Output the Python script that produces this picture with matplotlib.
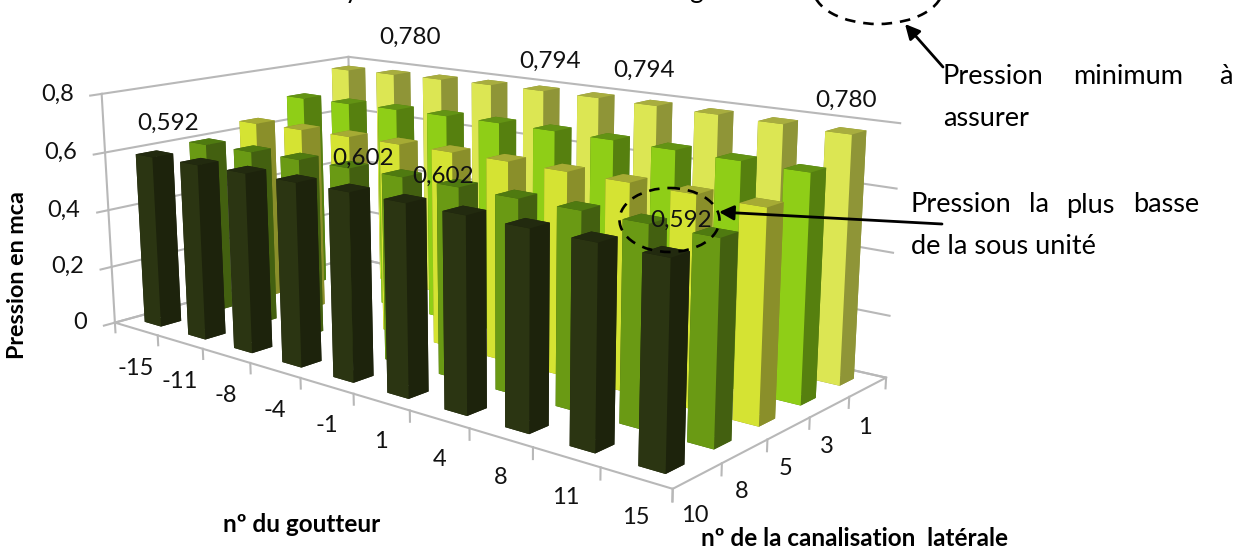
import numpy as np
import matplotlib
matplotlib.use('Agg')
import matplotlib.pyplot as plt
from matplotlib.patches import Ellipse
from matplotlib.transforms import offset_copy

plt.rcParams['font.family'] = ['Lato', 'DejaVu Sans']

goutteurs = ['-15', '-11', '-8', '-4', '-1', '1', '4', '8', '11', '15']
canalisations = ['10', '8', '5', '3', '1']
pression_10 = [0.592, 0.595, 0.598, 0.600, 0.602, 0.602, 0.600, 0.598, 0.595, 0.592]
pression_8 = [0.600, 0.603, 0.606, 0.608, 0.610, 0.610, 0.608, 0.606, 0.603, 0.600]
pression_5 = [0.642, 0.646, 0.649, 0.651, 0.653, 0.653, 0.651, 0.649, 0.646, 0.642]
pression_3 = [0.703, 0.707, 0.711, 0.714, 0.716, 0.716, 0.714, 0.711, 0.707, 0.703]
pression_1 = [0.780, 0.785, 0.789, 0.792, 0.794, 0.794, 0.792, 0.789, 0.785, 0.780]
series = [pression_10, pression_8, pression_5, pression_3, pression_1]
z_ticks = [0, 0.2, 0.4, 0.6, 0.8]
z_labels = ['0', '0,2', '0,4', '0,6', '0,8']

# front, side, top shades for each canalisation
face_cols = ['#2b3512', '#6a9a14', '#d5e333', '#8fce17', '#dce653']
side_cols = ['#1d230c', '#436010', '#8a8f2a', '#56800f', '#8f9537']
top_cols = ['#222a0f', '#4f7a10', '#a6ab34', '#639314', '#a8ad3f']

W, H = 1243, 550
fig = plt.figure(figsize=(W / 100, H / 100), dpi=100)

# camera and square axes size in pixels
S, cx, cy = 818.5549, 467.5498, 241.3085
ax = fig.add_axes([(cx - S / 2) / W, 1 - (cy + S / 2) / H, S / W, S / H], projection='3d')
ax.set_xlim(0, 10)
ax.set_ylim(0, 5)
ax.set_zlim(0, .8)
ax.view_init(13.6688, -49.2906, 0.2681)
ax.set_proj_type('persp', focal_length=0.3808)
ax.set_box_aspect((1, 0.5027, 0.3442))
ax.patch.set_alpha(0)
ax.set_axis_off()
ax.computed_zorder = False

# the box runs past the square axes on the right, so no clipping here
grid = dict(color='#b8b8b8', lw=1.5, zorder=1, clip_on=False)
for z in z_ticks:
    ax.plot([0, 0, 10], [0, 5, 5], [z, z, z], **grid)
    ax.plot([0, 0], [0, -0.2], [z, z], **grid)
ax.plot([0, 0], [0, 0], [0, .8], **grid)
ax.plot([0, 0], [5, 5], [0, .8], **grid)
ax.plot([0, 10, 10, 0, 0], [0, 0, 5, 5, 0], [0, 0, 0, 0, 0], **grid)
for i in range(11):
    ax.plot([i, i], [0, 0], [0, -.035], **grid)
for j in range(6):
    ax.plot([10, 10], [j, j], [0, -.035], **grid)

# bars back to front so nearer ones cover the others
bw = 0.38
order = 10
for j in range(len(series) - 1, -1, -1):
    for i in range(len(goutteurs)):
        ax.bar3d(i + .5 - bw / 2, j + .5 - bw / 2, 0, bw, bw, series[j][i], shade=False, zorder=order,
                 color=[side_cols[j], top_cols[j], face_cols[j], side_cols[j], side_cols[j], side_cols[j]])
        order += 1


def shifted(dx, dy):
    return offset_copy(ax.transData, fig=fig, x=dx, y=dy, units='dots')


for i, lab in enumerate(goutteurs):
    ax.text(i + .5, 0, 0, lab, transform=shifted(0, -40), ha='center', va='center', fontsize=17, zorder=1000, color='#111111')
for j, lab in enumerate(canalisations):
    ax.text(10, j + .5, 0, lab, transform=shifted(-3, -40), ha='center', va='center', fontsize=17, zorder=1000, color='#111111')
for z, lab in zip(z_ticks, z_labels):
    ax.text(0, 0, z, lab, transform=shifted(-28, 0), ha='right', va='center', fontsize=17, zorder=1000, color='#111111')

# (row, column, shift right, shift up)
value_labels = [(0, 0, 14, 31), (0, 4, 14, 30), (0, 5, 38, 22), (0, 9, 15, 31),
                (4, 0, 62, 31), (4, 4, 9, 27), (4, 5, 48, 25), (4, 9, 0, 30)]
for j, i, dx, dy in value_labels:
    ax.text(i + .5, j + .5, series[j][i], f'{series[j][i]:.3f}'.replace('.', ','),
            transform=shifted(dx, dy), ha='center', va='center', fontsize=17.5, zorder=1000, color='#111111')

# page annotations in pixel coordinates
note = fig.add_axes([0, 0, 1, 1], zorder=5)
note.set_xlim(0, W)
note.set_ylim(H, 0)
note.axis('off')
note.add_patch(Ellipse((878, -12), 130, 72, fill=False, ec='k', lw=1.9, ls=(0, (4, 3))))
note.add_patch(Ellipse((669.5, 220), 100, 64, fill=False, ec='k', lw=1.9, ls=(0, (4, 3))))
note.annotate('', xy=(905, 24), xytext=(943, 67), arrowprops=dict(arrowstyle='-|>', color='k', lw=2, mutation_scale=22, shrinkA=0, shrinkB=0))
note.annotate('', xy=(719, 212), xytext=(942, 224), arrowprops=dict(arrowstyle='-|>', color='k', lw=2, mutation_scale=22, shrinkA=0, shrinkB=0))
for x, y, s in [(943, 77, 'Pression'), (1073, 77, 'minimum'), (1219, 77, 'à'), (943, 118, 'assurer'),
                (911, 205, 'Pression'), (1029, 205, 'la'), (1066, 205, 'plus'), (1133, 205, 'basse'),
                (911, 247, 'de la sous unité')]:
    note.text(x, y, s, fontsize=19.5, va='center', ha='left', color='k')
note.text(18, 275, 'Pression en mca', rotation=90, fontsize=16.8, fontweight='bold', ha='center', va='center')
note.text(302, 525, 'nº du goutteur', fontsize=17.5, fontweight='bold', ha='center', va='center')
note.text(855, 538, 'nº de la canalisation  latérale', fontsize=17.5, fontweight='bold', ha='center', va='center')
# title line running off the top of the page
note.text(352, -2, 'y', fontsize=19, va='baseline', ha='center', color='k')
note.text(696, -2, 'g', fontsize=19, va='baseline', ha='center', color='k')

fig.savefig('out.png', dpi=100)
